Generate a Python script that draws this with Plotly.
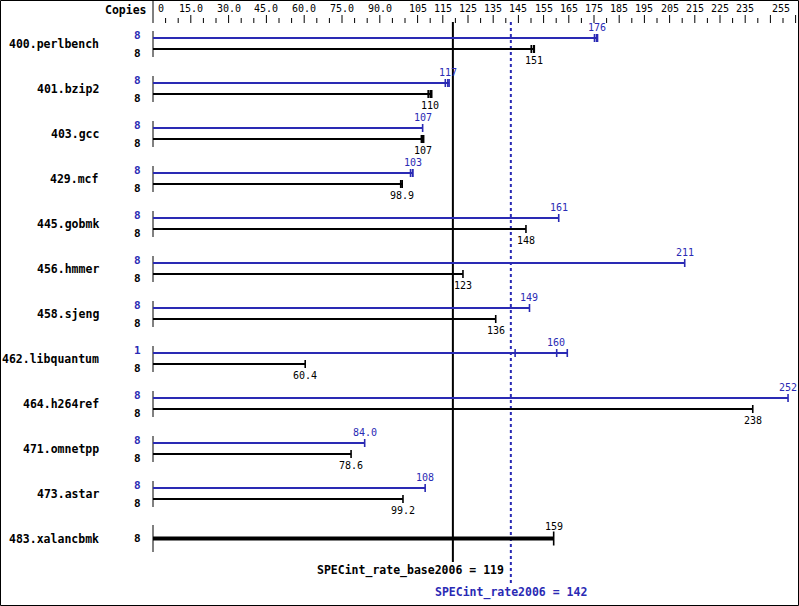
import plotly.graph_objects as go

benchmarks = ["400.perlbench", "401.bzip2", "403.gcc", "429.mcf", "445.gobmk", "456.hmmer",
              "458.sjeng", "462.libquantum", "464.h264ref", "471.omnetpp", "473.astar", "483.xalancbmk"]
base_copies = [8, 8, 8, 8, 8, 8, 8, 8, 8, 8, 8, 8]
peak_copies = [8, 8, 8, 8, 8, 8, 8, 1, 8, 8, 8, None]
base_ratio = [151, 110, 107, 98.9, 148, 123, 136, 60.4, 238, 78.6, 99.2, 159]
base_text = ["151", "110", "107", "98.9", "148", "123", "136", "60.4", "238", "78.6", "99.2", "159"]
peak_ratio = [176, 117, 107, 103, 161, 211, 149.4, 160, 252, 84.0, 108, None]
peak_text = ["176", "117", "107", "103", "161", "211", "149", "160", "252", "84.0", "108", None]
base_runs = [[150.1, 151, 151.3], [109.2, 110, 110.6], [106.5, 107, 107.4], [98.3, 98.9, 98.9],
             [148], [123], [136], [60.4], [238], [78.6], [99.2], [159]]
peak_runs = [[175.2, 176, 176.4], [116.0, 117, 117.5], [107], [102.2, 103, 103.1],
             [161], [211], [149.4], [143.7, 160.2, 164.4], [252], [84.0], [108], None]
tick_values = [0, 15, 30, 45, 60, 75, 90, 105, 115, 125, 135, 145, 155, 165, 175, 185,
               195, 205, 215, 225, 235, 255]
tick_labels = ["0", "15.0", "30.0", "45.0", "60.0", "75.0", "90.0", "105", "115", "125", "135",
               "145", "155", "165", "175", "185", "195", "205", "215", "225", "235", "255"]
base_score = 119
peak_score = 142

W, H = 799, 606
X0PX, PXU = 153.0, 2.52          # pixel of value 0, pixels per unit
Y0PX, ROWPX = 43.5, 45.0         # pixel of first row centre, pixels per row
BLUE = "#2a2ab4"
LBL = dict(family="DejaVu Sans Mono", size=11.5)
CPY = dict(family="DejaVu Sans Mono", size=11)
VAL = dict(family="DejaVu Sans Mono", size=10)


def py(p):
    """pixel row -> y data"""
    return (p - Y0PX) / ROWPX


def off(i, dp):
    return i + dp / ROWPX


fig = go.Figure()
ann = []

bars_b, by, bars_p, pyy, ticks_b, ticks_p, axes_x, axes_y = [], [], [], [], [], [], [], []
thick_x, thick_y = [], []
for i, name in enumerate(benchmarks):
    single = peak_runs[i] is None
    yb = i if single else off(i, 5.5)
    yp = off(i, -5.5)
    top = -13.5 if single else -12.5
    axes_x += [0, 0, None]
    axes_y += [off(i, top), off(i, 13.5), None]
    bmax = max(base_runs[i])
    if single:
        thick_x += [0, bmax, None]
        thick_y += [yb, yb, None]
        for r in base_runs[i]:
            ticks_b.append((r, off(i, -7), off(i, 7)))
        ann.append(dict(x=base_ratio[i], y=off(i, -12.5), text=base_text[i], font=dict(VAL, color="black")))
        ann.append(dict(x=0, xshift=-10, xanchor="right", y=yb, text="<b>%d</b>" % base_copies[i],
                        font=dict(CPY, color="black")))
    else:
        bars_b += [0, bmax, None]
        by += [yb, yb, None]
        for r in base_runs[i]:
            ticks_b.append((r, off(i, 5.5 - 4), off(i, 5.5 + 4)))
        ann.append(dict(x=base_ratio[i], y=off(i, 16.5), text=base_text[i], font=dict(VAL, color="black")))
        pmax = max(peak_runs[i])
        bars_p += [0, pmax, None]
        pyy += [yp, yp, None]
        for r in peak_runs[i]:
            ticks_p.append((r, off(i, -5.5 - 4), off(i, -5.5 + 4)))
        ann.append(dict(x=peak_ratio[i], y=off(i, -16.5), text=peak_text[i], font=dict(VAL, color=BLUE)))
        ann.append(dict(x=0, xshift=-10, xanchor="right", y=off(i, -8.5), text="<b>%d</b>" % peak_copies[i],
                        font=dict(CPY, color=BLUE)))
        ann.append(dict(x=0, xshift=-10, xanchor="right", y=off(i, 9.5), text="<b>%d</b>" % base_copies[i],
                        font=dict(CPY, color="black")))
    ann.append(dict(x=101 / W, xref="paper", xanchor="right", y=i, text="<b>%s</b>" % name,
                    font=dict(LBL, color="black")))


def tick_xy(ticks):
    xs, ys = [], []
    for x, y0, y1 in ticks:
        xs += [x, x, None]
        ys += [y0, y1, None]
    return xs, ys


fig.add_trace(go.Scatter(x=[base_score, base_score], y=[py(22), py(562)], mode="lines",
                         line=dict(color="black", width=2), hoverinfo="skip"))
fig.add_trace(go.Scatter(x=[peak_score, peak_score], y=[py(22), py(583)], mode="lines",
                         line=dict(color=BLUE, width=2, dash="dot"), hoverinfo="skip"))
fig.add_trace(go.Scatter(x=axes_x, y=axes_y, mode="lines", line=dict(color="black", width=1), hoverinfo="skip"))
fig.add_trace(go.Scatter(x=bars_p, y=pyy, mode="lines", line=dict(color=BLUE, width=2), hoverinfo="skip"))
fig.add_trace(go.Scatter(x=bars_b, y=by, mode="lines", line=dict(color="black", width=2), hoverinfo="skip"))
fig.add_trace(go.Scatter(x=thick_x, y=thick_y, mode="lines", line=dict(color="black", width=4), hoverinfo="skip"))
tx, ty = tick_xy(ticks_p)
fig.add_trace(go.Scatter(x=tx, y=ty, mode="lines", line=dict(color=BLUE, width=1.6), hoverinfo="skip"))
tx, ty = tick_xy(ticks_b)
fig.add_trace(go.Scatter(x=tx, y=ty, mode="lines", line=dict(color="black", width=1.6), hoverinfo="skip"))

# header scale
hx, hy = [0, 0, None], [py(0), py(23), None]
for v in range(5, 256, 5):
    long_ = v in tick_values or v == 245
    hx += [v, v, None]
    hy += [py(15 if long_ else 18), py(23), None]
fig.add_trace(go.Scatter(x=hx, y=hy, mode="lines", line=dict(color="black", width=1), hoverinfo="skip"))
for v, t in zip(tick_values, tick_labels):
    a = dict(x=v, y=py(8.5), text=t, font=dict(VAL, color="black"))
    if v == 0:
        a.update(xanchor="left", xshift=3)
    elif v == tick_values[-1]:
        a.update(xanchor="right", xshift=-4)
    ann.append(a)
ann.append(dict(x=0, xshift=-4, xanchor="right", y=py(10), text="<b>Copies</b>", font=dict(LBL, color="black")))

ann.append(dict(x=peak_score, xshift=-5, xanchor="right", y=py(570),
                text="<b>SPECint_rate_base2006 = %d</b>" % base_score, font=dict(LBL, color="black")))
ann.append(dict(x=peak_score, y=py(592), text="<b>SPECint_rate2006 = %d</b>" % peak_score,
                font=dict(LBL, color=BLUE)))

for a in ann:
    a.setdefault("xref", "x")
    a.setdefault("yref", "y")
    a.setdefault("xanchor", "center")
    a.setdefault("yanchor", "middle")
    a["showarrow"] = False

fig.update_layout(
    width=W, height=H, margin=dict(l=0, r=0, t=0, b=0),
    paper_bgcolor="white", plot_bgcolor="white", showlegend=False,
    annotations=ann,
    xaxis=dict(range=[-X0PX / PXU, (W - X0PX) / PXU], visible=False, fixedrange=True),
    yaxis=dict(range=[py(H), py(0)], visible=False, fixedrange=True),
    shapes=[dict(type="rect", xref="paper", yref="paper", x0=0.5 / W, x1=1 - 0.5 / W,
                 y0=0.5 / H, y1=1 - 0.5 / H, line=dict(color="black", width=1))],
)
fig.write_html("out.html", config={"displayModeBar": False},
               post_script="document.body.style.margin='0';document.body.style.overflow='hidden';")
